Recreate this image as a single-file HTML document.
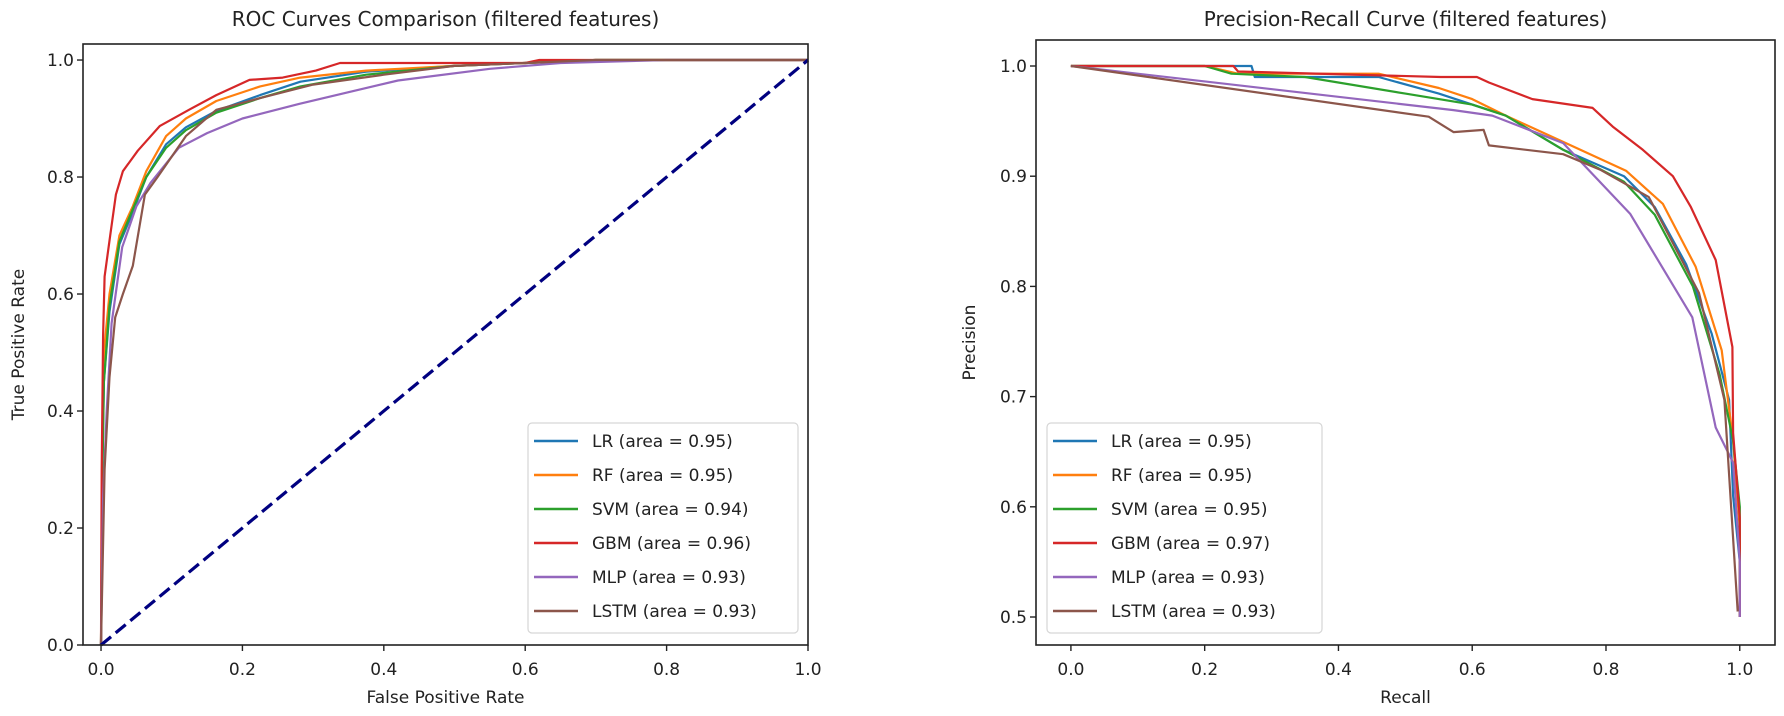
<!DOCTYPE html>
<html><head><meta charset="utf-8">
<style>
html,body{margin:0;padding:0;background:#fff;}
svg{display:block;font-family:"DejaVu Sans","Liberation Sans",sans-serif;}
</style></head>
<body>
<svg id="chart" width="1784" height="716" viewBox="0 0 1784 716" xmlns="http://www.w3.org/2000/svg"></svg>
<script>
// ---------- data ----------
const models = ["LR","RF","SVM","GBM","MLP","LSTM"];
const colors = ["#1f77b4","#ff7f0e","#2ca02c","#d62728","#9467bd","#8c564b"];
const rocAuc = ["0.95","0.95","0.94","0.96","0.93","0.93"];
const prAuc = ["0.95","0.95","0.95","0.97","0.93","0.93"];
const rocTicksX = [0,0.2,0.4,0.6,0.8,1.0];
const rocTicksY = [0,0.2,0.4,0.6,0.8,1.0];
const prTicksX = [0,0.2,0.4,0.6,0.8,1.0];
const prTicksY = [0.5,0.6,0.7,0.8,0.9,1.0];

const rocLR_x = [0,0.002,0.004,0.012,0.026,0.045,0.064,0.092,0.12,0.163,0.225,0.282,0.375,0.5,0.6,0.7,1.0];
const rocLR_y = [0,0.3,0.45,0.57,0.685,0.74,0.80,0.856,0.885,0.913,0.94,0.963,0.98,0.99,0.995,1.0,1.0];
const rocRF_x = [0,0.002,0.004,0.012,0.026,0.045,0.064,0.092,0.12,0.163,0.225,0.282,0.375,0.5,0.6,0.7,1.0];
const rocRF_y = [0,0.35,0.5,0.6,0.7,0.75,0.81,0.87,0.9,0.93,0.955,0.97,0.982,0.99,0.995,1.0,1.0];
const rocSVM_x = [0,0.002,0.004,0.012,0.026,0.045,0.064,0.092,0.12,0.163,0.225,0.282,0.375,0.5,0.6,0.7,1.0];
const rocSVM_y = [0,0.3,0.45,0.58,0.69,0.745,0.80,0.85,0.88,0.91,0.935,0.955,0.975,0.99,0.995,1.0,1.0];
const rocGBM_x = [0,0.001,0.003,0.005,0.013,0.021,0.031,0.052,0.083,0.126,0.163,0.21,0.257,0.304,0.338,0.6,0.62,1.0];
const rocGBM_y = [0,0.3,0.53,0.63,0.70,0.77,0.81,0.845,0.887,0.916,0.94,0.966,0.97,0.982,0.995,0.995,1.0,1.0];
const rocMLP_x = [0,0.003,0.008,0.015,0.03,0.05,0.07,0.11,0.15,0.2,0.28,0.35,0.42,0.55,0.65,0.8,1.0];
const rocMLP_y = [0,0.25,0.4,0.55,0.68,0.75,0.79,0.85,0.875,0.9,0.925,0.945,0.965,0.985,0.995,1.0,1.0];
const rocLSTM_x = [0,0.005,0.012,0.02,0.031,0.045,0.062,0.08,0.12,0.163,0.225,0.3,0.4,0.5,0.6,0.7,1.0];
const rocLSTM_y = [0,0.3,0.458,0.56,0.6,0.648,0.77,0.80,0.87,0.915,0.935,0.958,0.975,0.99,0.995,1.0,1.0];

const prLR_r = [0,0.27,0.275,0.46,0.55,0.6,0.65,0.736,0.827,0.873,0.92,0.958,0.984,0.99,1.0,1.0];
const prLR_p = [1,1,0.99,0.99,0.975,0.965,0.955,0.924,0.90,0.872,0.82,0.757,0.697,0.61,0.55,0.5];
const prRF_r = [0,0.2,0.25,0.46,0.55,0.6,0.65,0.74,0.83,0.885,0.934,0.973,0.99,1.0,1.0];
const prRF_p = [1,1,0.993,0.993,0.98,0.97,0.955,0.93,0.905,0.875,0.818,0.742,0.66,0.58,0.5];
const prSVM_r = [0,0.2,0.24,0.35,0.5,0.55,0.6,0.65,0.736,0.827,0.873,0.93,0.97,0.99,1.0,1.0];
const prSVM_p = [1,1,0.993,0.99,0.975,0.97,0.965,0.955,0.924,0.895,0.865,0.8,0.72,0.66,0.6,0.5];
const prGBM_r = [0,0.243,0.25,0.553,0.607,0.625,0.69,0.78,0.81,0.855,0.9,0.927,0.964,0.989,0.99,1.0,1.0];
const prGBM_p = [1,1,0.995,0.99,0.99,0.985,0.97,0.962,0.945,0.924,0.90,0.872,0.824,0.745,0.667,0.59,0.5];
const prMLP_r = [0,0.572,0.63,0.736,0.836,0.929,0.964,0.99,1.0,1.0];
const prMLP_p = [1,0.96,0.955,0.93,0.866,0.772,0.672,0.64,0.55,0.5];
const prLSTM_r = [0,0.535,0.572,0.617,0.625,0.736,0.791,0.864,0.939,0.977,0.997];
const prLSTM_p = [1,0.954,0.94,0.942,0.928,0.92,0.906,0.881,0.794,0.697,0.505];

const rocXs = [rocLR_x,rocRF_x,rocSVM_x,rocGBM_x,rocMLP_x,rocLSTM_x];
const rocYs = [rocLR_y,rocRF_y,rocSVM_y,rocGBM_y,rocMLP_y,rocLSTM_y];
const prRs = [prLR_r,prRF_r,prSVM_r,prGBM_r,prMLP_r,prLSTM_r];
const prPs = [prLR_p,prRF_p,prSVM_p,prGBM_p,prMLP_p,prLSTM_p];

// ---------- helpers ----------
const NS = "http://www.w3.org/2000/svg";
const svg = document.getElementById("chart");
function mk(tag, attrs, parent){
  const e = document.createElementNS(NS, tag);
  for (const k in attrs) e.setAttribute(k, attrs[k]);
  (parent||svg).appendChild(e);
  return e;
}
function txt(s, attrs, parent){ const t = mk("text", attrs, parent); t.textContent = s; return t; }

function drawPanel(cfg){
  const g = mk("g", {});
  
  
  const sx = v => cfg.x0 + (v - cfg.xmin) / (cfg.xmax - cfg.xmin) * (cfg.x1 - cfg.x0);
  const sy = v => cfg.y1 - (v - cfg.ymin) / (cfg.ymax - cfg.ymin) * (cfg.y1 - cfg.y0);

  const title = txt(cfg.title, {x:(cfg.x0+cfg.x1)/2, y:26, "text-anchor":"middle", "font-size":"20", fill:"#222"}, g);
  
  

  for (let i=0;i<cfg.xs.length;i++){
    const pts = cfg.xs[i].map((v,j)=> sx(v).toFixed(1)+","+sy(cfg.ys[i][j]).toFixed(1)).join(" ");
    const pl = mk("polyline", {points:pts, fill:"none", stroke:colors[i], "stroke-width":"2.2", "stroke-linejoin":"round"}, g);
    
    
  }
  if (cfg.diag){
    const d = mk("line", {x1:sx(0), y1:sy(0), x2:sx(1), y2:sy(1), stroke:"#000080", "stroke-width":"3.2", "stroke-dasharray":"13,6"}, g);
    
    
  }

  const fr = mk("rect", {x:cfg.x0, y:cfg.y0, width:cfg.x1-cfg.x0, height:cfg.y1-cfg.y0, fill:"none", stroke:"#222", "stroke-width":"1.6"}, g);
  
  

  cfg.tx.forEach(v=>{
    const x = sx(v);
    const tk = mk("line", {x1:x, y1:cfg.y1, x2:x, y2:cfg.y1+6, stroke:"#222", "stroke-width":"1.4"}, g);
    
    
    const tl = txt(v.toFixed(1), {x:x, y:cfg.y1+30, "text-anchor":"middle", "font-size":"17", fill:"#222"}, g);
    
    
  });
  cfg.ty.forEach(v=>{
    const y = sy(v);
    const tk = mk("line", {x1:cfg.x0-6, y1:y, x2:cfg.x0, y2:y, stroke:"#222", "stroke-width":"1.4"}, g);
    
    
    const tl = txt(v.toFixed(1), {x:cfg.x0-9, y:y+6, "text-anchor":"end", "font-size":"17", fill:"#222"}, g);
    
    
  });

  const xt = txt(cfg.xlabel, {x:(cfg.x0+cfg.x1)/2, y:703, "text-anchor":"middle", "font-size":"17", fill:"#222"}, g);
  
  
  const yc = (cfg.y0+cfg.y1)/2;
  const yt = txt(cfg.ylabel, {x:cfg.ylx, y:yc, "text-anchor":"middle", "font-size":"17", fill:"#222", transform:"rotate(-90 "+cfg.ylx+" "+yc+")"}, g);
  
  

  const lg = mk("g", {}, g);
  
  
  mk("rect", {x:cfg.lx, y:423, width:cfg.lw, height:210, rx:4, fill:"#fff", "fill-opacity":"0.85", stroke:"#d6d6d6", "stroke-width":"1.2"}, lg);
  for (let i=0;i<models.length;i++){
    const ry = 441 + i*34;
    const e = mk("g", {}, lg);
    
    
    mk("line", {x1:cfg.lx+6, y1:ry, x2:cfg.lx+50, y2:ry, stroke:colors[i], "stroke-width":"2.4"}, e);
    txt(models[i]+" (area = "+cfg.auc[i]+")", {x:cfg.lx+64, y:ry+6, "font-size":"17", fill:"#222"}, e);
  }
}

drawPanel({name:"roc-chart", title:"ROC Curves Comparison (filtered features)",
  x0:83, x1:808, y0:44, y1:645, xmin:-0.0255, xmax:1.0, ymin:0, ymax:1.0274,
  xs:rocXs, ys:rocYs, tx:rocTicksX, ty:rocTicksY, diag:true,
  xlabel:"False Positive Rate", ylabel:"True Positive Rate", ylx:24, lx:528, lw:270, auc:rocAuc});

drawPanel({name:"pr-chart", title:"Precision-Recall Curve (filtered features)",
  x0:1036, x1:1775, y0:40, y1:645, xmin:-0.0522, xmax:1.0527, ymin:0.4746, ymax:1.0236,
  xs:prRs, ys:prPs, tx:prTicksX, ty:prTicksY, diag:false,
  xlabel:"Recall", ylabel:"Precision", ylx:975, lx:1047, lw:275, auc:prAuc});
</script>
</body></html>
